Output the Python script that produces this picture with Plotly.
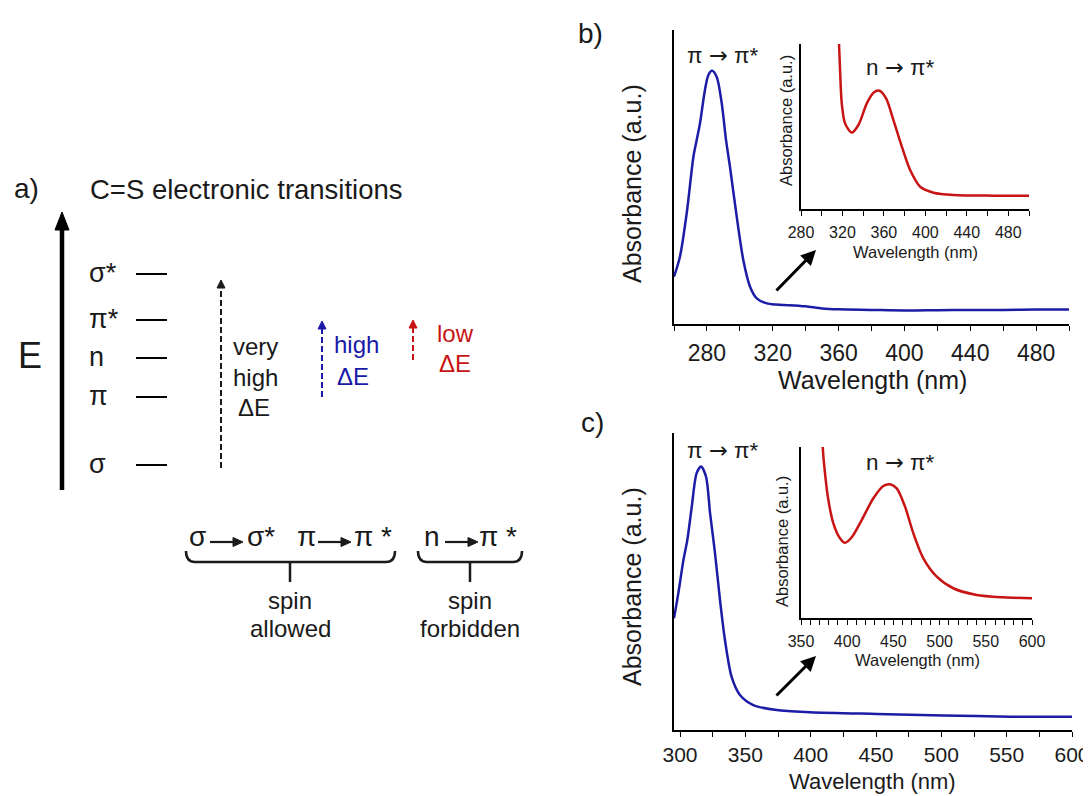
import plotly.graph_objects as go

# ---------------- data ----------------
# panel b: main spectrum (blue)
b_wl = [260.0, 263.6, 267.7, 271.8, 273.8, 275.8, 278.8, 280.9, 283.1, 285.9, 289.0, 291.6, 294.0,
        298.1, 302.1, 306.2, 310.3, 316.4, 322, 330, 340, 350, 360, 380, 400, 420, 440, 460, 480, 500]
b_abs = [0.161, 0.229, 0.376, 0.569, 0.626, 0.683, 0.796, 0.847, 0.861, 0.841, 0.751, 0.626, 0.535,
         0.365, 0.218, 0.127, 0.087, 0.070, 0.066, 0.064, 0.060, 0.053, 0.050, 0.048, 0.046, 0.047,
         0.048, 0.048, 0.049, 0.049]
# panel b: inset (red)
bi_wl = [314, 316.7, 317.7, 319.3, 322.5, 329, 335.4, 343.5, 349.9, 355.7, 362.1, 369.2, 377.3,
         385.3, 395, 407.8, 427.2, 465.8, 500]
bi_abs = [1.4, 1.0, 0.842, 0.642, 0.519, 0.463, 0.509, 0.640, 0.705, 0.717, 0.671, 0.539, 0.378,
          0.236, 0.135, 0.099, 0.085, 0.081, 0.081]
# panel c: main spectrum (blue)
c_wl = [295.4, 298.7, 302.6, 305.6, 309.0, 312.7, 316.1, 319.9, 323.0, 326.8, 330.6, 334.4, 339.5,
        345.9, 356.1, 374, 399.5, 450.5, 501.5, 552.5, 600]
c_abs = [0.376, 0.460, 0.572, 0.640, 0.752, 0.864, 0.887, 0.853, 0.730, 0.595, 0.438, 0.303, 0.179,
         0.118, 0.084, 0.067, 0.060, 0.054, 0.049, 0.045, 0.045]
# panel c: inset (red)
ci_wl = [372, 373.5, 376, 379.6, 385, 392.2, 397.6, 404.9, 415.7, 428.3, 439.1, 446.3, 453.6, 462.6,
         471.6, 482.4, 496.9, 514.8, 540.1, 569, 600]
ci_abs = [1.25, 1.0, 0.846, 0.690, 0.554, 0.466, 0.440, 0.472, 0.573, 0.700, 0.772, 0.782, 0.758,
          0.651, 0.495, 0.349, 0.242, 0.174, 0.135, 0.121, 0.115]

# panel a: energy levels
level_names = ["σ*", "π*", "n", "π", "σ"]

# ---------------- layout geometry (screen pixels) ----------------
SW, SH = 1091, 796          # browser window
OFF = 8                     # default page margin in front of the figure
W, H = SW - OFF, SH - OFF   # figure size so it ends at the window edge
level_y = [274, 320, 358, 397, 465]
FONT = "Liberation Sans, Arial, sans-serif"
BLUE = "#1c1ca6"
RED = "#c81414"
DKBLUE = "#1a1aa8"
ARROW = '<span style="font-family:DejaVu Sans">→</span>'


def dx(a, b):
    return [(a - OFF) / W, (b - OFF) / W]


def dy(top, bottom):
    return [1 - (bottom - OFF) / H, 1 - (top - OFF) / H]


def xaxis(domain, rng, dtick, tick0, minor, size, anchor, standoff):
    return dict(domain=domain, range=rng, anchor=anchor, showline=True, linecolor="black",
                linewidth=1.5, ticks="outside", ticklen=5, tickwidth=1.3, tickcolor="black",
                dtick=dtick, tick0=tick0,
                minor=dict(dtick=minor, ticks="outside", ticklen=5, tickwidth=1.3,
                           tickcolor="black", showgrid=False),
                showgrid=False, zeroline=False, automargin=False,
                tickfont=dict(size=size, color="#1a1a1a", family=FONT),
                ticklabelstandoff=standoff, fixedrange=True)


def yaxis(domain, anchor):
    return dict(domain=domain, range=[0, 1], anchor=anchor, showline=True, linecolor="black",
                linewidth=1.5, showticklabels=False, ticks="", showgrid=False, zeroline=False,
                automargin=False, fixedrange=True)


fig = go.Figure()
line_blue = dict(color=BLUE, width=2.5, shape="spline", smoothing=0.8)
line_red = dict(color=RED, width=2.5, shape="spline", smoothing=0.8)
fig.add_trace(go.Scatter(x=b_wl, y=b_abs, mode="lines", line=line_blue, xaxis="x", yaxis="y"))
fig.add_trace(go.Scatter(x=bi_wl, y=bi_abs, mode="lines", line=line_red, xaxis="x2", yaxis="y2"))
fig.add_trace(go.Scatter(x=c_wl, y=c_abs, mode="lines", line=line_blue, xaxis="x3", yaxis="y3"))
fig.add_trace(go.Scatter(x=ci_wl, y=ci_abs, mode="lines", line=line_red, xaxis="x4", yaxis="y4"))

# energy level bars in the diagram (pixel-space overlay axis)
lx, ly = [], []
for yv in level_y:
    lx += [136, 167, None]
    ly += [yv, yv, None]
fig.add_trace(go.Scatter(x=lx, y=ly, mode="lines", line=dict(color="black", width=2),
                         xaxis="x5", yaxis="y5", hoverinfo="skip"))

shapes = []
ann = []


def T(x, y, text, size, color="#1a1a1a", xanchor="center", angle=0):
    ann.append(dict(x=x, y=y, xref="x5", yref="y5", text=text, showarrow=False,
                    xanchor=xanchor, yanchor="middle", textangle=angle,
                    font=dict(size=size, color=color, family=FONT)))


def vdash_arrow(x, y0, tip, color, width=2, head=8):
    shapes.append(dict(type="line", xref="x5", yref="y5", x0=x, x1=x, y0=y0, y1=tip + head - 1,
                       line=dict(color=color, width=width, dash="6px,3px")))
    shapes.append(dict(type="path", xref="x5", yref="y5",
                       path=f"M {x - head / 2} {tip + head} L {x} {tip} L {x + head / 2} {tip + head} Z",
                       fillcolor=color, line=dict(color=color, width=1)))


def h_arrow(x0, x1, y):
    shapes.append(dict(type="line", xref="x5", yref="y5", x0=x0, x1=x1 - 6, y0=y, y1=y,
                       line=dict(color="#1a1a1a", width=2.2)))
    shapes.append(dict(type="path", xref="x5", yref="y5",
                       path=f"M {x1 - 10} {y - 4.5} L {x1} {y} L {x1 - 10} {y + 4.5} Z",
                       fillcolor="#1a1a1a", line=dict(color="#1a1a1a", width=1)))


# ---- panel a ----
T(12, 188, "a)", 28, xanchor="left")
T(88, 189, "C=S electronic transitions", 27.5, xanchor="left")
# energy axis
shapes.append(dict(type="line", xref="x5", yref="y5", x0=62, x1=62, y0=490, y1=226,
                   line=dict(color="black", width=4.5)))
shapes.append(dict(type="path", xref="x5", yref="y5", path="M 55 230 L 62 212 L 69 230 Z",
                   fillcolor="black", line=dict(color="black", width=1)))
T(30, 355, "E", 36)
for name, yv in zip(level_names, level_y):
    T(87, yv - 1, name, 27, xanchor="left")

vdash_arrow(221, 468, 280, "#1a1a1a")
T(255, 346, "very", 24)
T(255, 377, "high", 24)
T(254, 407, "ΔE", 24)
vdash_arrow(322, 397, 321, DKBLUE)
T(356, 344, "high", 24, DKBLUE)
T(353, 376, "ΔE", 24, DKBLUE)
vdash_arrow(413, 360, 320, RED)
T(455, 333, "low", 24, RED)
T(455, 363, "ΔE", 24, RED)

# transitions row
T(197, 536, "σ", 28)
h_arrow(210, 243, 542)
T(261, 536, "σ*", 28)
T(306, 536, "π", 28)
h_arrow(318, 351, 542)
T(373, 536, "π *", 28)
T(432, 536, "n", 28)
h_arrow(445, 478, 542)
T(498, 536, "π *", 28)

# braces
for (xl, xr, xm) in [(186, 395, 290), (418, 522, 470)]:
    shapes.append(dict(type="path", xref="x5", yref="y5",
                       path=f"M {xl} 551 Q {xl} 562 {xl + 9} 562 L {xr - 9} 562 Q {xr} 562 {xr} 551",
                       line=dict(color="#1a1a1a", width=2.5)))
    shapes.append(dict(type="line", xref="x5", yref="y5", x0=xm, x1=xm, y0=562, y1=582,
                       line=dict(color="#1a1a1a", width=2.5)))
T(290, 600, "spin", 24)
T(290, 628, "allowed", 24)
T(470, 600, "spin", 24)
T(470, 628, "forbidden", 24)

# ---- panel b ----
T(576, 33, "b)", 28, xanchor="left")
T(722, 55, f"π {ARROW} π*", 22.5)
T(900, 67, f"n {ARROW} π*", 22.5)
T(632, 184, "Absorbance (a.u.)", 25, angle=-90)
T(872, 380, "Wavelength (nm)", 25)
T(786, 121, "Absorbance (a.u.)", 16.5, angle=-90)
T(915, 252, "Wavelength (nm)", 16.5)
ann.append(dict(x=816, y=250, ax=775, ay=292, xref="x5", yref="y5", axref="x5", ayref="y5",
                text="", showarrow=True, arrowhead=2, arrowsize=1, arrowwidth=3,
                arrowcolor="black"))

# ---- panel c ----
T(579, 422, "c)", 28, xanchor="left")
T(722, 450, f"π {ARROW} π*", 22.5)
T(900, 462, f"n {ARROW} π*", 22.5)
T(632, 587, "Absorbance (a.u.)", 25, angle=-90)
T(872, 781, "Wavelength (nm)", 22)
T(782, 542, "Absorbance (a.u.)", 16.5, angle=-90)
T(917, 660, "Wavelength (nm)", 16.5)
ann.append(dict(x=816, y=656, ax=775, ay=697, xref="x5", yref="y5", axref="x5", ayref="y5",
                text="", showarrow=True, arrowhead=2, arrowsize=1, arrowwidth=3,
                arrowcolor="black"))

fig.update_layout(
    template="none",
    width=W, height=H, margin=dict(l=0, r=0, t=0, b=0, pad=0, autoexpand=False), autosize=False,
    paper_bgcolor="white", plot_bgcolor="rgba(0,0,0,0)", showlegend=False,
    font=dict(family=FONT),
    xaxis=xaxis(dx(674, 1069), [260, 500], 40, 280, 20, 23, "y", 3),
    yaxis=yaxis(dy(30, 324), "x"),
    xaxis2=xaxis(dx(801, 1029), [280, 500], 40, 280, 20, 16, "y2", 3),
    yaxis2=yaxis(dy(44, 209), "x2"),
    xaxis3=xaxis(dx(674, 1072), [295.4, 600], 50, 300, 25, 21, "y3", 0),
    yaxis3=yaxis(dy(433, 730), "x3"),
    xaxis4=xaxis(dx(801, 1032), [350, 600], 50, 350, 10, 16, "y4", 3),
    yaxis4=yaxis(dy(447, 618), "x4"),
    xaxis5=dict(domain=[0, 1], range=[OFF, SW], anchor="y5", visible=False, fixedrange=True,
                automargin=False),
    yaxis5=dict(domain=[0, 1], range=[SH, OFF], anchor="x5", visible=False, fixedrange=True,
                automargin=False),
    shapes=shapes, annotations=ann,
)

fig.write_html("out.html")
